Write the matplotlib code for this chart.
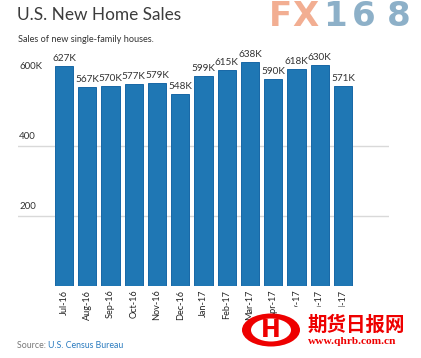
import matplotlib
matplotlib.use("Agg")
import matplotlib.pyplot as plt
import matplotlib.transforms as mtransforms
from matplotlib.patches import Ellipse, Rectangle

months = ["Jul-16", "Aug-16", "Sep-16", "Oct-16", "Nov-16", "Dec-16", "Jan-17",
          "Feb-17", "Mar-17", "Apr-17", "May-17", "Jun-17", "Jul-17"]
sales = [627, 567, 570, 577, 579, 548, 599, 615, 638, 590, 618, 630, 571]
ytick_vals = [200, 400, 600]
ytick_labels = ["200", "400", "600K"]

W, H = 421, 358
fig = plt.figure(figsize=(W / 100, H / 100), dpi=100)
fig.patch.set_facecolor("white")

def fx(px):
    return px / W

def fy(py):
    return 1 - py / H

ax_left, ax_right, ax_top, ax_bot = 18, 389, 40.5, 285.5
ax = fig.add_axes([fx(ax_left), fy(ax_bot), fx(ax_right - ax_left), (ax_bot - ax_top) / H])
ax.set_facecolor("none")

x = list(range(len(months)))
ax.bar(x, sales, width=0.775, color="#1f77b4", edgecolor="#1767a6", linewidth=0.7, zorder=3)
ax.set_xlim(-1.978, 13.978)
ax.set_ylim(0, 700)

for s in ax.spines.values():
    s.set_visible(False)
ax.set_yticks([])
ax.set_xticks(x)
ax.set_xticklabels(months, rotation=90, fontsize=6.6, color="#222222", family="Lato")
ax.tick_params(axis="x", length=0, pad=3)

# gridlines (600 line hidden behind bars in reference)
for v in ytick_vals[:2]:
    ax.axhline(v, color="#d9d9d9", linewidth=1.0, zorder=1)

trans = mtransforms.blended_transform_factory(ax.transAxes, ax.transData)
for v, lab in zip(ytick_vals, ytick_labels):
    t = mtransforms.offset_copy(trans, fig=fig, x=0, y=3, units="points")
    ax.text(0.003, v, lab, transform=t, fontsize=7, color="#333333",
            ha="left", va="bottom", family="Lato")

for xi, v in zip(x, sales):
    t = mtransforms.offset_copy(ax.transData, fig=fig, x=0, y=2.0, units="points")
    ax.text(xi, v, f"{v}K", transform=t, fontsize=7.2, color="#333333",
            ha="center", va="bottom", family="Lato", zorder=4)

# titles
fig.text(fx(17), fy(15.5), "U.S. New Home Sales", fontsize=12.4, color="#3c3c3c",
         family="Lato", weight="normal", ha="left", va="center")
fig.text(fx(18), fy(39), "Sales of new single-family houses.", fontsize=6.6,
         color="#333333", family="Lato", ha="left", va="center")

# source
src = fig.text(fx(17), fy(345.5), "Source: ", fontsize=6.3, color="#777777",
               family="Lato", ha="left", va="center")
fig.canvas.draw()
bb = src.get_window_extent()
fig.text(bb.x1 / W, fy(345.5), "U.S. Census Bureau", fontsize=6.3, color="#2a7bbf",
         family="Lato", ha="left", va="center")

# FX168 watermark
for ch, cx, col in [("F", 280, "#f2ae92"), ("X", 305.5, "#f2ae92"), ("1", 335, "#8db0c8"),
                    ("6", 363.5, "#8db0c8"), ("8", 398.5, "#8db0c8")]:
    fig.text(fx(cx), fy(16.5), ch, fontsize=24.5, color=col, weight="bold",
             family="DejaVu Sans", ha="center", va="center")

# bottom-right logo
fig.add_artist(Rectangle((fx(286), 0), fx(W - 286), fy(307), transform=fig.transFigure,
                         facecolor="white", edgecolor="none", zorder=5))
fig.add_artist(Ellipse((fx(271), fy(330)), fx(58), 33 / H, transform=fig.transFigure,
                       facecolor="#ee0000", edgecolor="none", zorder=6))
fig.add_artist(Ellipse((fx(271), fy(330)), fx(40), 23 / H, transform=fig.transFigure,
                       facecolor="white", edgecolor="none", zorder=6))
fig.text(fx(271), fy(330), "H", fontsize=17, color="#ee0000", weight="bold",
         family="DejaVu Sans", ha="center", va="center", zorder=7)
fig.text(fx(308), fy(325), "期货日报网", fontsize=14, color="#ee0000", weight="bold",
         family=["Noto Sans CJK SC", "DejaVu Sans"], ha="left", va="center", zorder=7)
fig.text(fx(308), fy(342), "www.qhrb.com.cn", fontsize=8.2, color="#ee0000", weight="bold",
         family="Liberation Serif", ha="left", va="center", zorder=7)

fig.savefig("out.png", dpi=100, facecolor="white")
